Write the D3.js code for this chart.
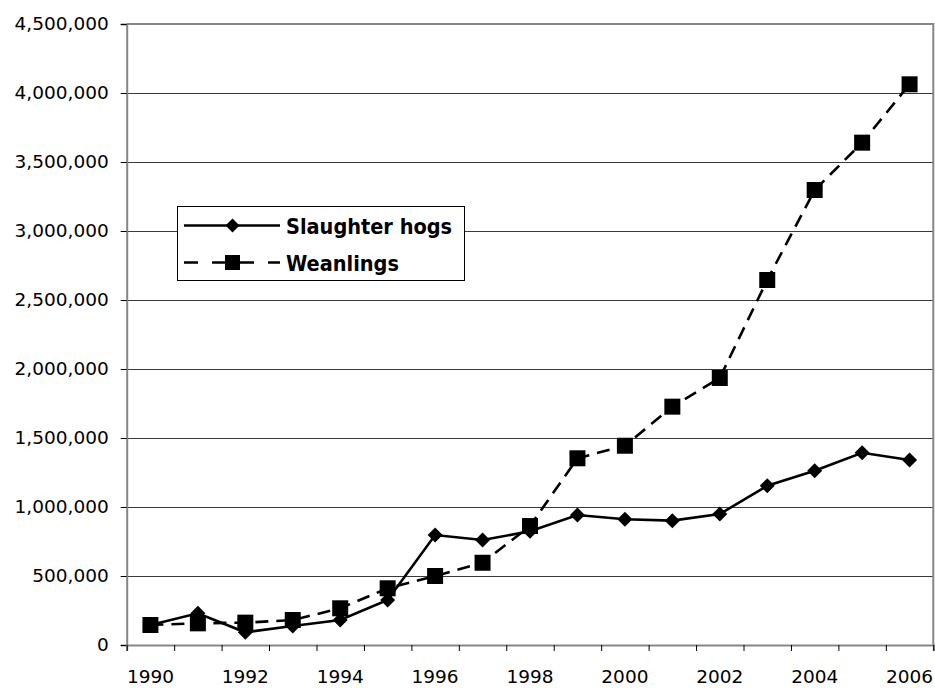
<!DOCTYPE html>
<html>
<head>
<meta charset="utf-8">
<script src="https://cdn.jsdelivr.net/npm/d3@7"></script>
<style>
  html, body { margin: 0; padding: 0; background: #fff; }
  svg { display: block; }
</style>
</head>
<body>
<svg id="chart" width="935" height="688"></svg>
<script>
const years = [1990,1991,1992,1993,1994,1995,1996,1997,1998,1999,2000,2001,2002,2003,2004,2005,2006];
const slaughterHogs = [145000,230000,92000,138000,181000,326000,797000,761000,824000,942000,911000,901000,949000,1154000,1263000,1393000,1340000];
const weanlings = [145000,157000,162000,181000,266000,411000,500000,596000,862000,1353000,1444000,1727000,1935000,2645000,3297000,3640000,4063000];
const yTicks = [0,500000,1000000,1500000,2000000,2500000,3000000,3500000,4000000,4500000];
const xLabelYears = [1990,1992,1994,1996,1998,2000,2002,2004,2006];
const seriesNames = ["Slaughter hogs", "Weanlings"];

const svg = d3.select("#chart");
const L = 126.7, R = 933.3, T = 24, B = 645;
const tickFont = "DejaVu Sans, sans-serif";

const x = d3.scaleBand().domain(years).range([L, R]).paddingInner(0).paddingOuter(0);
const xb = d3.scaleLinear().domain([0, years.length]).range([L, R]);
const y = d3.scaleLinear().domain([0, 4500000]).range([B, T]);
const cx = d => x(d) + x.bandwidth() / 2;

// gridlines
svg.append("g")
  .selectAll("line")
  .data(yTicks.filter(v => v > 0 && v < 4500000))
  .join("line")
  .attr("x1", L).attr("x2", R)
  .attr("y1", d => y(d)).attr("y2", d => y(d))
  .attr("stroke", "#3a3a3a").attr("stroke-width", 1).attr("shape-rendering", "crispEdges");

// plot border (top & right)
svg.append("path")
  .attr("d", `M${L},${y(4500000)}H${R}V${B}`)
  .attr("fill", "none").attr("stroke", "#868686").attr("stroke-width", 2);

// Y axis
const yAxis = svg.append("g")
  .attr("transform", `translate(${L},0)`)
  .call(d3.axisLeft(y).tickValues(yTicks).tickSize(6).tickPadding(12)
        .tickFormat(d3.format(",")));
yAxis.select(".domain").attr("stroke", "#868686").attr("stroke-width", 2);
yAxis.selectAll(".tick line").attr("stroke", "#000").attr("stroke-width", 1);
yAxis.selectAll("text").attr("font-family", tickFont).attr("font-size", "18.5px").attr("fill", "#000");

// X axis ticks (category boundaries)
const xTickAxis = svg.append("g")
  .attr("transform", `translate(0,${B})`)
  .call(d3.axisBottom(xb).tickValues(d3.range(0, years.length + 1)).tickSize(6).tickFormat(""));
xTickAxis.select(".domain").attr("stroke", "#868686").attr("stroke-width", 2);
xTickAxis.selectAll(".tick line").attr("stroke", "#000").attr("stroke-width", 1);

// X axis labels
const xLabelAxis = svg.append("g")
  .attr("transform", `translate(0,${B})`)
  .call(d3.axisBottom(x).tickValues(xLabelYears).tickSize(0).tickPadding(25));
xLabelAxis.select(".domain").remove();
xLabelAxis.selectAll("text").attr("font-family", tickFont).attr("font-size", "18.5px").attr("fill", "#000");

// lines
const line = d3.line().x((d, i) => cx(years[i])).y(d => y(d));
svg.append("path").datum(weanlings).attr("d", line)
  .attr("fill", "none").attr("stroke", "#000").attr("stroke-width", 2.6)
  .attr("stroke-dasharray", "13,8");
svg.append("path").datum(slaughterHogs).attr("d", line)
  .attr("fill", "none").attr("stroke", "#000").attr("stroke-width", 2.6);

// markers
const diamond = s => `M0,${-s}L${s},0L0,${s}L${-s},0Z`;
svg.append("g").selectAll("path")
  .data(weanlings).join("path")
  .attr("transform", (d, i) => `translate(${cx(years[i])},${y(d)})`)
  .attr("d", "M-8,-8H8V8H-8Z").attr("fill", "#000");
svg.append("g").selectAll("path")
  .data(slaughterHogs).join("path")
  .attr("transform", (d, i) => `translate(${cx(years[i])},${y(d)})`)
  .attr("d", diamond(7.5)).attr("fill", "#000");

// legend
const lg = svg.append("g");
lg.append("rect").attr("x", 177.5).attr("y", 206.5).attr("width", 287).attr("height", 74)
  .attr("fill", "#fff").attr("stroke", "#000").attr("stroke-width", 1);
const rows = [
  { name: seriesNames[0], cy: 225.5, dash: null, marker: diamond(7) },
  { name: seriesNames[1], cy: 262.5, dash: "14,14", marker: "M-7.5,-7.5H7.5V7.5H-7.5Z" }
];
rows.forEach(r => {
  lg.append("line").attr("x1", 184).attr("x2", 280).attr("y1", r.cy).attr("y2", r.cy)
    .attr("stroke", "#000").attr("stroke-width", 2.6)
    .attr("stroke-dasharray", r.dash);
  lg.append("path").attr("transform", `translate(232.5,${r.cy})`).attr("d", r.marker).attr("fill", "#000");
  lg.append("text").attr("x", 286).attr("y", r.cy + 8.5)
    .attr("font-family", "DejaVu Sans Condensed, DejaVu Sans, sans-serif")
    .attr("font-stretch", "condensed")
    .attr("font-weight", "bold").attr("font-size", "21.5px").attr("fill", "#000")
    .text(r.name);
});
</script>
</body>
</html>
